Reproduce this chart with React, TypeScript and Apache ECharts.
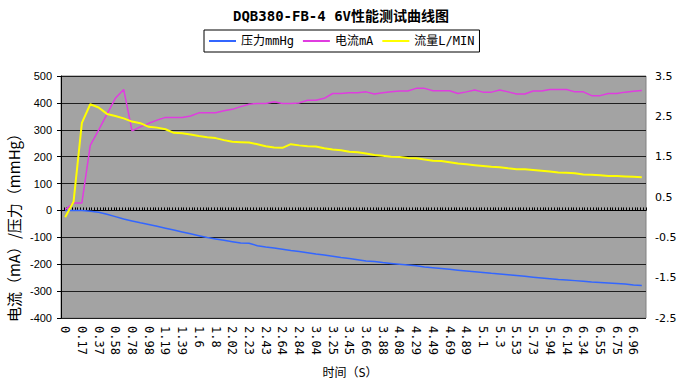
import React, { useEffect, useRef } from 'react';
import * as echarts from 'echarts';

const MONO = "'DejaVu Sans Mono', 'Noto Sans CJK SC', monospace";
const CJK = "'Noto Sans CJK SC', 'DejaVu Sans Mono', sans-serif";

const titleText = 'DQB380-FB-4 6V性能测试曲线图';
const seriesNames = ['压力mmHg', '电流mA', '流量L/MIN'];
const seriesColors = ['#3366ff', '#e03ce0', '#ffff00'];

const timeLabels = ['0', '0.17', '0.37', '0.58', '0.78', '0.98', '1.19', '1.39', '1.6', '1.8', '2.02', '2.23', '2.43', '2.64', '2.84', '3.04', '3.25', '3.45', '3.66', '3.88', '4.08', '4.29', '4.49', '4.69', '4.89', '5.1', '5.3', '5.53', '5.73', '5.94', '6.14', '6.34', '6.55', '6.75', '6.96'];

const pressure = [0, 0, 0, -3, -7, -14, -23, -32, -39, -46, -52, -59, -66, -73, -80, -87, -94, -101, -106, -111, -116, -121, -122, -131, -136, -140, -144, -149, -153, -157, -162, -166, -170, -175, -179, -183, -188, -190, -194, -197, -200, -203, -206, -210, -213, -216, -219, -222, -225, -228, -231, -234, -236, -239, -242, -245, -248, -251, -254, -257, -259, -261, -263, -266, -268, -270, -272, -274, -277, -279];

const current = [3, 28, 28, 242, 299, 358, 417, 450, 296, 311, 324, 336, 346, 346, 346, 351, 363, 363, 363, 371, 376, 386, 395, 398, 398, 404, 398, 398, 400, 410, 410, 417, 435, 435, 438, 438, 441, 433, 438, 441, 444, 444, 454, 454, 445, 445, 445, 435, 441, 448, 440, 440, 448, 441, 433, 433, 444, 444, 450, 450, 450, 441, 441, 427, 427, 435, 435, 440, 443, 446];

const flow = [0, 0.38, 2.34, 2.8, 2.72, 2.56, 2.51, 2.45, 2.37, 2.33, 2.24, 2.22, 2.18, 2.09, 2.08, 2.05, 2.01, 1.98, 1.96, 1.91, 1.87, 1.86, 1.85, 1.81, 1.76, 1.73, 1.72, 1.81, 1.78, 1.76, 1.75, 1.71, 1.68, 1.66, 1.62, 1.61, 1.58, 1.54, 1.52, 1.5, 1.49, 1.47, 1.46, 1.43, 1.4, 1.39, 1.36, 1.33, 1.31, 1.29, 1.27, 1.25, 1.24, 1.21, 1.19, 1.19, 1.17, 1.15, 1.13, 1.11, 1.1, 1.09, 1.06, 1.05, 1.04, 1.02, 1.02, 1.01, 1.0, 0.99];

const rightTicks = [-2.5, -1.5, -0.5, 0.5, 1.5, 2.5, 3.5];
const ticksPerSample = 3;

export default function App() {
  const ref = useRef<HTMLDivElement>(null);
  useEffect(() => {
    if (!ref.current) return;
    const chart = echarts.init(ref.current, undefined, { renderer: 'svg' });
    const categories: string[] = [];
    for (let i = 0; i < pressure.length; i++) {
      categories.push(i % 2 === 0 ? (timeLabels[i / 2] ?? '') : '');
    }
    const tickCats = Array.from({ length: pressure.length * ticksPerSample }, (_, i) => String(i));
    chart.setOption({
      animation: false,
      backgroundColor: '#fff',
      title: {
        text: titleText,
        left: 'center',
        top: 4,
        textStyle: { fontFamily: MONO, fontSize: 14, fontWeight: 'bold', color: '#000' },
      },
      legend: {
        left: 204,
        top: 30,
        padding: [4, 5],
        itemGap: 9,
        itemWidth: 27,
        itemHeight: 2,
        icon: 'rect',
        borderColor: '#000',
        borderWidth: 1,
        borderRadius: 0,
        backgroundColor: '#fff',
        textStyle: { fontFamily: MONO, fontSize: 12, color: '#000', lineHeight: 14 },
        data: seriesNames,
      },
      grid: {
        left: 61,
        right: 36,
        top: 76,
        bottom: 69,
        show: true,
        backgroundColor: '#a3a3a3',
        borderColor: '#808080',
        borderWidth: 1,
      },
      xAxis: [
        {
          type: 'category',
          data: categories,
          position: 'bottom',
          boundaryGap: true,
          axisLine: { show: false, onZero: false },
          axisTick: { show: false },
          splitLine: { show: false },
          axisLabel: {
            interval: 0,
            rotate: -90,
            margin: 8,
            fontFamily: MONO,
            fontSize: 12,
            color: '#000',
          },
        },
        {
          type: 'category',
          data: tickCats,
          position: 'top',
          boundaryGap: true,
          axisLine: { show: true, onZero: true, onZeroAxisIndex: 0, lineStyle: { color: '#000', width: 1 } },
          axisTick: { show: true, interval: 0, length: 3, inside: false, lineStyle: { color: '#000', width: 1 } },
          axisLabel: { show: false },
          splitLine: { show: false },
        },
      ],
      yAxis: [
        {
          type: 'value',
          min: -400,
          max: 500,
          interval: 100,
          position: 'left',
          axisLine: { show: true, onZero: false, lineStyle: { color: '#000', width: 1 } },
          axisTick: { show: true, length: 4, lineStyle: { color: '#000' } },
          splitLine: { show: true, lineStyle: { color: '#1e1e1e', width: 1 } },
          axisLabel: { margin: 9, fontFamily: "'Liberation Sans', sans-serif", fontSize: 11, color: '#000' },
        },
        {
          type: 'value',
          min: -2.5,
          max: 3.5,
          position: 'right',
          axisLine: { show: false, onZero: false },
          axisTick: { show: false },
          splitLine: { show: false },
          axisLabel: {
            customValues: rightTicks,
            margin: 9,
            fontFamily: "'DejaVu Sans', sans-serif",
            fontSize: 11,
            color: '#000',
            formatter: (v: number) => String(v),
          },
        },
      ],
      graphic: [
        {
          type: 'text',
          x: 13,
          y: 224,
          rotation: Math.PI / 2,
          style: {
            text: '电流（mA）/压力（mmHg）',
            font: `15px ${CJK}`,
            fill: '#000',
            align: 'center',
            verticalAlign: 'middle',
          },
        },
        {
          type: 'text',
          x: 350,
          y: 373,
          style: {
            text: '时间（S）',
            font: `12px ${MONO}`,
            fill: '#000',
            align: 'center',
            verticalAlign: 'middle',
          },
        },
      ],
      series: [
        {
          name: seriesNames[0],
          type: 'line',
          xAxisIndex: 0,
          yAxisIndex: 0,
          data: pressure,
          symbol: 'none',
          lineStyle: { color: seriesColors[0], width: 1.5 },
          itemStyle: { color: seriesColors[0] },
          z: 3,
        },
        {
          name: seriesNames[1],
          type: 'line',
          xAxisIndex: 0,
          yAxisIndex: 0,
          data: current,
          symbol: 'none',
          lineStyle: { color: seriesColors[1], width: 1.5 },
          itemStyle: { color: seriesColors[1] },
          z: 4,
        },
        {
          name: seriesNames[2],
          type: 'line',
          xAxisIndex: 0,
          yAxisIndex: 1,
          data: flow,
          symbol: 'none',
          lineStyle: { color: seriesColors[2], width: 2 },
          itemStyle: { color: seriesColors[2] },
          z: 5,
        },
      ],
    });
    return () => chart.dispose();
  }, []);
  return (
    <div
      ref={ref}
      style={{ position: 'absolute', left: 0, top: 0, width: 682, height: 387 }}
    />
  );
}
